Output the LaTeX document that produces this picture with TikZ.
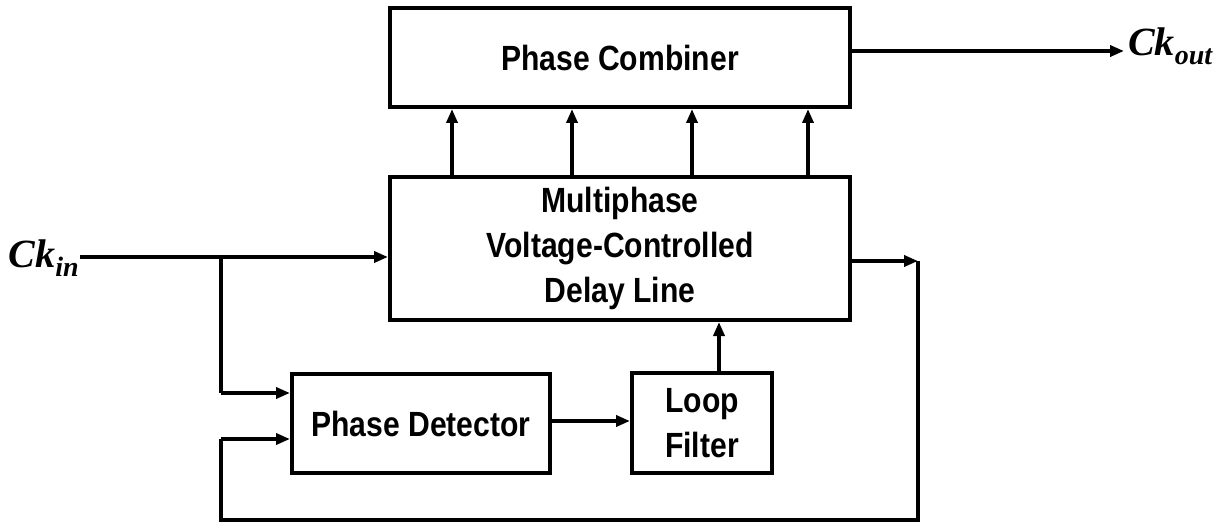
\documentclass[tikz,border=0pt]{standalone}
\usepackage{fontspec}
\setmainfont{Liberation Sans}[FakeStretch=0.86]
\newfontfamily\ckfont{Liberation Serif}
\usetikzlibrary{arrows.meta}
\begin{document}
\begin{tikzpicture}[x=1pt,y=-1pt,
  blk/.style={draw,line width=4pt,inner sep=0pt,font=\fontsize{35}{45}\selectfont\bfseries,align=center},
  wire/.style={line width=3.5pt},
  arr/.style={line width=3.5pt,-{Triangle[length=14pt,width=11pt]}},
  cklab/.style={inner sep=0pt,font=\ckfont\fontsize{40}{42}\selectfont\bfseries\itshape}]
\useasboundingbox (0,0) rectangle (1215,524);
\node[blk,minimum width=460pt,minimum height=99pt] (pc) at (620,57.5) {Phase Combiner};
\node[blk,minimum width=460pt,minimum height=143pt] (dl) at (620,248.5) {Multiphase\\Voltage-Controlled\\Delay Line};
\node[blk,minimum width=258pt,minimum height=99pt] (pd) at (421,423.5) {Phase Detector};
\node[blk,minimum width=140pt,minimum height=100pt] (lf) at (702,423) {Loop\\Filter};
\node[cklab,anchor=east] (ckin) at (79,258) {Ck\raisebox{-9pt}{\fontsize{28}{30}\selectfont in}};
\node[cklab,anchor=west] (ckout) at (1128,46) {Ck\raisebox{-9pt}{\fontsize{28}{30}\selectfont out}};
\coordinate (cin) at (80,257);
\coordinate (br) at (221,257);
\coordinate (brd) at (221,393);
\coordinate (fb) at (918,261);
\coordinate (fbb) at (918,520);
\coordinate (fbl) at (221,520);
\coordinate (fbu) at (221,439);
\coordinate (cout) at (1124,51);
\draw[arr] (cin) -- (dl.west |- cin);
\draw[wire] (br) -- (brd);
\draw[arr] (brd) -- (pd.west |- brd);
\draw[arr] (dl.east |- fb) -- (fb);
\draw[wire] (fb) -- (fbb) -- (fbl) -- (fbu);
\draw[arr] (fbu) -- (pd.west |- fbu);
\draw[arr] (pd.east |- 0,421) -- (lf.west |- 0,421);
\draw[arr] (lf.north -| 719,0) -- (dl.south -| 719,0);
\foreach \x in {452,572,692,808}
  \draw[arr] (dl.north -| \x,0) -- (pc.south -| \x,0);
\draw[arr] (pc.east |- cout) -- (cout);
\end{tikzpicture}
\end{document}
